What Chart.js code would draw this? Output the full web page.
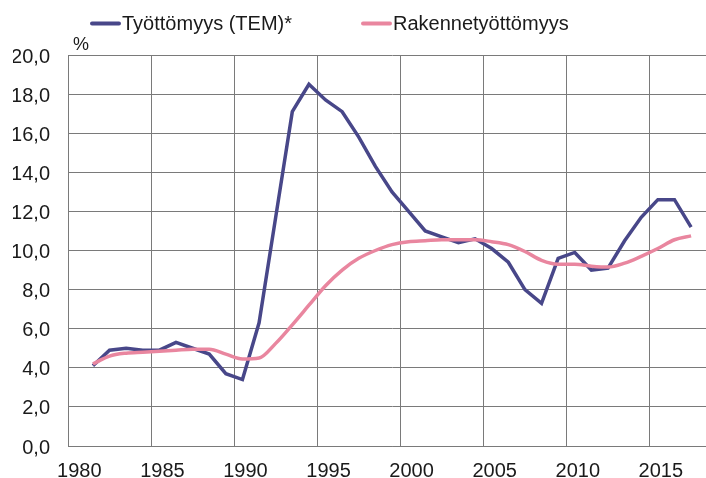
<!DOCTYPE html>
<html>
<head>
<meta charset="utf-8">
<script src="https://cdn.jsdelivr.net/npm/chart.js@4"></script>
<style>
    html, body { margin: 0; padding: 0; background: #fff; overflow: hidden; }
    #wrap { width: 706px; height: 478px; overflow: hidden; position: relative; }
    canvas { position: absolute; left: 0; top: 0; }
</style>
</head>
<body>
<div id="wrap"><canvas id="chart" width="720" height="490"></canvas></div>
<script>
// Years on the category axis (1980 and 2018 have no values)
const years = [1980, 1981, 1982, 1983, 1984, 1985, 1986, 1987, 1988, 1989,
    1990, 1991, 1992, 1993, 1994, 1995, 1996, 1997, 1998, 1999,
    2000, 2001, 2002, 2003, 2004, 2005, 2006, 2007, 2008, 2009,
    2010, 2011, 2012, 2013, 2014, 2015, 2016, 2017, 2018];

// Työttömyys (TEM)*, %
const tyottomyys = [null, 4.1, 4.9, 5.0, 4.9, 4.9, 5.3, 5.0, 4.7, 3.7,
    3.4, 6.3, 11.7, 17.1, 18.5, 17.7, 17.1, 15.8, 14.3, 13.0,
    12.0, 11.0, 10.7, 10.4, 10.6, 10.1, 9.4, 8.0, 7.3, 9.6,
    9.9, 9.0, 9.1, 10.5, 11.7, 12.6, 12.6, 11.2, null];

// Rakennetyöttömyys, %
const rakenne = [null, 4.2, 4.6, 4.75, 4.8, 4.85, 4.9, 4.95, 4.95, 4.7,
    4.45, 4.5, 5.25, 6.2, 7.2, 8.2, 9.0, 9.6, 10.0, 10.3,
    10.45, 10.5, 10.55, 10.55, 10.55, 10.45, 10.3, 9.95, 9.5, 9.3,
    9.3, 9.2, 9.15, 9.35, 9.7, 10.1, 10.55, 10.75, null];

const yMin = 0;
const yMax = 20;
const yStep = 2;

Chart.defaults.font.family = "'Liberation Sans', Arial, sans-serif";
Chart.defaults.color = '#1a1a1a';

const gridColor = '#7a7a7a';
const blue = '#484789';
const pink = '#e9869f';

// Legend and the "%" unit label, drawn in the Excel style
const overlay = {
    id: 'overlay',
    afterDraw(chart) {
        const ctx = chart.ctx;
        const area = chart.chartArea;
        ctx.save();
        ctx.fillStyle = '#1a1a1a';
        ctx.textBaseline = 'alphabetic';
        ctx.font = "18px 'Liberation Sans', Arial, sans-serif";
        ctx.fillText('%', area.left + 5, area.top - 5);

        const legendX = [92, 363];
        ctx.font = "20px 'Liberation Sans', Arial, sans-serif";
        chart.data.datasets.forEach(function(ds, i) {
            const x = legendX[i];
            ctx.strokeStyle = ds.borderColor;
            ctx.lineWidth = 4;
            ctx.lineCap = 'round';
            ctx.beginPath();
            ctx.moveTo(x, 23.5);
            ctx.lineTo(x + 27, 23.5);
            ctx.stroke();
            ctx.fillText(ds.label, x + 30, 30);
        });
        ctx.restore();
    }
};

const ctx = document.getElementById('chart').getContext('2d');
new Chart(ctx, {
    type: 'line',
    data: {
        labels: years,
        datasets: [
            {
                label: 'Työttömyys (TEM)*',
                data: tyottomyys,
                borderColor: blue,
                borderWidth: 3.5,
                pointRadius: 0,
                tension: 0,
                order: 1
            },
            {
                label: 'Rakennetyöttömyys',
                data: rakenne,
                borderColor: pink,
                borderWidth: 3.5,
                pointRadius: 0,
                cubicInterpolationMode: 'monotone',
                order: 0
            }
        ]
    },
    options: {
        responsive: false,
        animation: false,
        layout: {
            padding: { left: 13, top: 55, right: 4, bottom: 9 }
        },
        plugins: {
            legend: { display: false },
            tooltip: { enabled: false }
        },
        scales: {
            x: {
                offset: true,
                afterFit: function(axis) {
                    axis.height = 35;
                    axis.paddingLeft = 0;
                    axis.paddingRight = 0;
                },
                grid: {
                    offset: true,
                    drawTicks: false,
                    color: function(c) {
                        return (c.index % 5 === 0) ? gridColor : 'transparent';
                    },
                    lineWidth: 1
                },
                border: { color: gridColor, width: 1 },
                ticks: {
                    autoSkip: false,
                    maxRotation: 0,
                    padding: 13,
                    labelOffset: 3,
                    font: { size: 20 },
                    color: '#1a1a1a',
                    callback: function(value, index) {
                        return years[index] % 5 === 0 ? String(years[index]) : '';
                    }
                }
            },
            y: {
                min: yMin,
                max: yMax,
                afterFit: function(axis) {
                    axis.width = 55;
                },
                grid: { color: gridColor, lineWidth: 1, drawTicks: false },
                border: { color: gridColor, width: 1 },
                ticks: {
                    stepSize: yStep,
                    padding: 18,
                    labelOffset: 2,
                    font: { size: 20 },
                    color: '#1a1a1a',
                    callback: function(v) {
                        return v.toFixed(1).replace('.', ',');
                    }
                }
            }
        }
    },
    plugins: [overlay]
});
</script>
</body>
</html>
